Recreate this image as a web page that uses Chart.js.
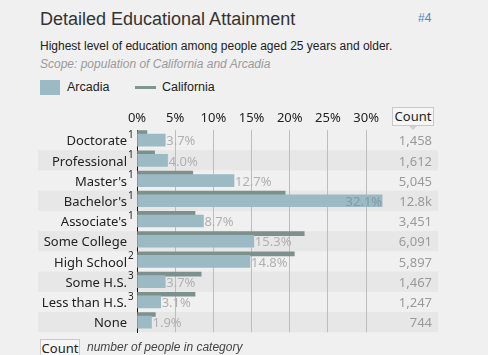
<!DOCTYPE html>
<html>
<head>
<meta charset="utf-8">
<script src="https://cdn.jsdelivr.net/npm/chart.js@4"></script>
<style>
  html, body { margin:0; padding:0; background:#f0f0f0; width:488px; height:355px; overflow:hidden; position:relative; }
  .abs { position:absolute; white-space:nowrap; }
  #title { left:40px; top:9px; font:18px "Liberation Sans", Arial, sans-serif; color:#333; }
  #num { left:418px; top:11px; font:12px "Liberation Sans", Arial, sans-serif; color:#4f86c0; }
  #sub { left:40px; top:39px; font:12px "Liberation Sans", Arial, sans-serif; color:#222; }
  #scope { left:40px; top:57px; font:italic 12px "Liberation Sans", Arial, sans-serif; color:#9a9a9a; }
  #legA { left:40px; top:80px; width:20px; height:15px; background:#9cbac4; }
  #legAt { left:67px; top:80px; font:12.5px "Liberation Sans", Arial, sans-serif; color:#222; }
  #legC { left:135px; top:86px; width:21px; height:3px; background:#7f958f; }
  #legCt { left:162px; top:80px; font:12.5px "Liberation Sans", Arial, sans-serif; color:#222; }
  .cbox { border:1px solid #c8c8c8; background:#f6f6f6; font:13px "Noto Sans", sans-serif; color:#222; text-align:center; line-height:16px; box-sizing:border-box; }
  #chead { left:392px; top:107px; width:42px; height:19px; }
  #notch { left:409px; top:126px; width:0; height:0; border-left:4px solid transparent; border-right:4px solid transparent; border-top:4px solid #cfcfcf; }
  #cfoot { left:40px; top:339px; width:40px; height:19px; }
  #foot { left:87px; top:340px; font:italic 12px "Liberation Sans", Arial, sans-serif; color:#444; }
  #wrap { position:absolute; left:0; top:100px; width:488px; height:250px; }
</style>
</head>
<body>
<div class="abs" id="title">Detailed Educational Attainment</div>
<div class="abs" id="num">#4</div>
<div class="abs" id="sub">Highest level of education among people aged 25 years and older.</div>
<div class="abs" id="scope">Scope: population of California and Arcadia</div>
<div class="abs" id="legA"></div><div class="abs" id="legAt">Arcadia</div>
<div class="abs" id="legC"></div><div class="abs" id="legCt">California</div>
<div id="wrap"><canvas id="c" width="488" height="250"></canvas></div>
<div class="abs cbox" id="chead">Count</div>
<div class="abs" id="notch"></div>
<div class="abs cbox" id="cfoot">Count</div>
<div class="abs" id="foot">number of people in category</div>
<script>
const categories = ["Doctorate","Professional","Master's","Bachelor's","Associate's","Some College","High School","Some H.S.","Less than H.S.","None"];
const footnotes = ["1","1","1","1","1","","2","3","3",""];
const arcadiaPct = [3.7, 4.0, 12.7, 32.1, 8.7, 15.3, 14.8, 3.7, 3.1, 1.9];
const californiaPct = [1.3, 2.3, 7.3, 19.4, 7.6, 21.9, 20.6, 8.4, 7.6, 2.4];
const counts = ["1,458","1,612","5,045","12.8k","3,451","6,091","5,897","1,467","1,247","744"];
const xTicksStep = 5;

const TXT = '"Noto Sans", sans-serif';
const SHIFT = 0.375; // California bar sits above the row centre (in rows)

const decor = {
  id: 'decor',
  beforeDraw(chart) {
    const ctx = chart.ctx, y = chart.scales.y;
    const h = y.getPixelForValue(1) - y.getPixelForValue(0);
    ctx.save();
    ctx.fillStyle = '#e7e7e7';
    for (let i = 1; i < categories.length; i += 2) {
      const c = y.getPixelForValue(i);
      ctx.fillRect(38, c - h / 2, 400, h);
    }
    ctx.restore();
  },
  afterDatasetsDraw(chart) {
    const ctx = chart.ctx, y = chart.scales.y, area = chart.chartArea;
    ctx.save();
    ctx.font = '10px ' + TXT;
    ctx.fillStyle = '#222';
    ctx.textAlign = 'left';
    ctx.textBaseline = 'middle';
    footnotes.forEach((f, i) => {
      if (f) ctx.fillText(f, y.right - 9, y.getPixelForValue(i) - 5);
    });
    ctx.font = '13px ' + TXT;
    const meta = chart.getDatasetMeta(0);
    meta.data.forEach((bar, i) => {
      const t = arcadiaPct[i].toFixed(1) + '%';
      const w = ctx.measureText(t).width;
      if (bar.x + 2 + w > area.right) {
        ctx.textAlign = 'right';
        ctx.fillStyle = '#7f9ca6';
        ctx.fillText(t, bar.x, bar.y + 1.5);
      } else {
        ctx.textAlign = 'left';
        ctx.fillStyle = '#b0b0b0';
        ctx.fillText(t, bar.x + 1, bar.y + 1.5);
      }
    });
    ctx.restore();
  }
};

new Chart(document.getElementById('c'), {
  type: 'bar',
  data: {
    labels: categories,
    datasets: [
      {
        label: 'Arcadia',
        data: arcadiaPct,
        xAxisID: 'x', yAxisID: 'y',
        backgroundColor: '#9cbac4',
        grouped: false,
        barThickness: 12,
        borderWidth: 0
      },
      {
        label: 'California',
        data: californiaPct.map((v, i) => ({ x: v, y: -i })),
        xAxisID: 'x', yAxisID: 'y2',
        backgroundColor: '#7c908d',
        grouped: false,
        barThickness: 4,
        borderWidth: 0
      }
    ]
  },
  options: {
    indexAxis: 'y',
    responsive: false,
    animation: false,
    events: [],
    layout: { padding: { left: 0, right: 56, top: 0, bottom: 0 } },
    plugins: { legend: { display: false }, tooltip: { enabled: false } },
    scales: {
      x: {
        type: 'linear',
        position: 'top',
        min: 0, max: 33,
        afterFit(s) { s.height = 30; },
        border: { display: false },
        grid: {
          drawTicks: false,
          color: ctx => ctx.tick && ctx.tick.value === 0 ? 'rgba(0,0,0,0)' : '#bdbdbd',
          lineWidth: 1
        },
        ticks: {
          stepSize: xTicksStep,
          includeBounds: false,
          padding: 4,
          color: '#222',
          font: { family: 'Noto Sans', size: 13 },
          callback: v => v + '%'
        }
      },
      y: {
        type: 'category',
        position: 'left',
        offset: true,
        afterFit(s) { s.width = 137; },
        border: { display: true, color: '#111', width: 1 },
        grid: { display: false, drawTicks: false },
        ticks: {
          padding: 10,
          labelOffset: 1.5,
          color: '#222',
          font: { family: 'Noto Sans', size: 13 }
        }
      },
      y2: {
        type: 'linear',
        display: false,
        offset: false,
        min: -(categories.length - 0.5) - SHIFT,
        max: 0.5 - SHIFT
      },
      y3: {
        type: 'category',
        position: 'right',
        labels: counts,
        offset: true,
        afterFit(s) { s.width = 43; },
        border: { display: false },
        grid: { display: false, drawTicks: false },
        ticks: {
          crossAlign: 'far',
          padding: 0,
          labelOffset: 1.5,
          color: '#9a9a9a',
          font: { family: 'Noto Sans', size: 13 }
        }
      }
    }
  },
  plugins: [decor]
});
</script>
</body>
</html>
